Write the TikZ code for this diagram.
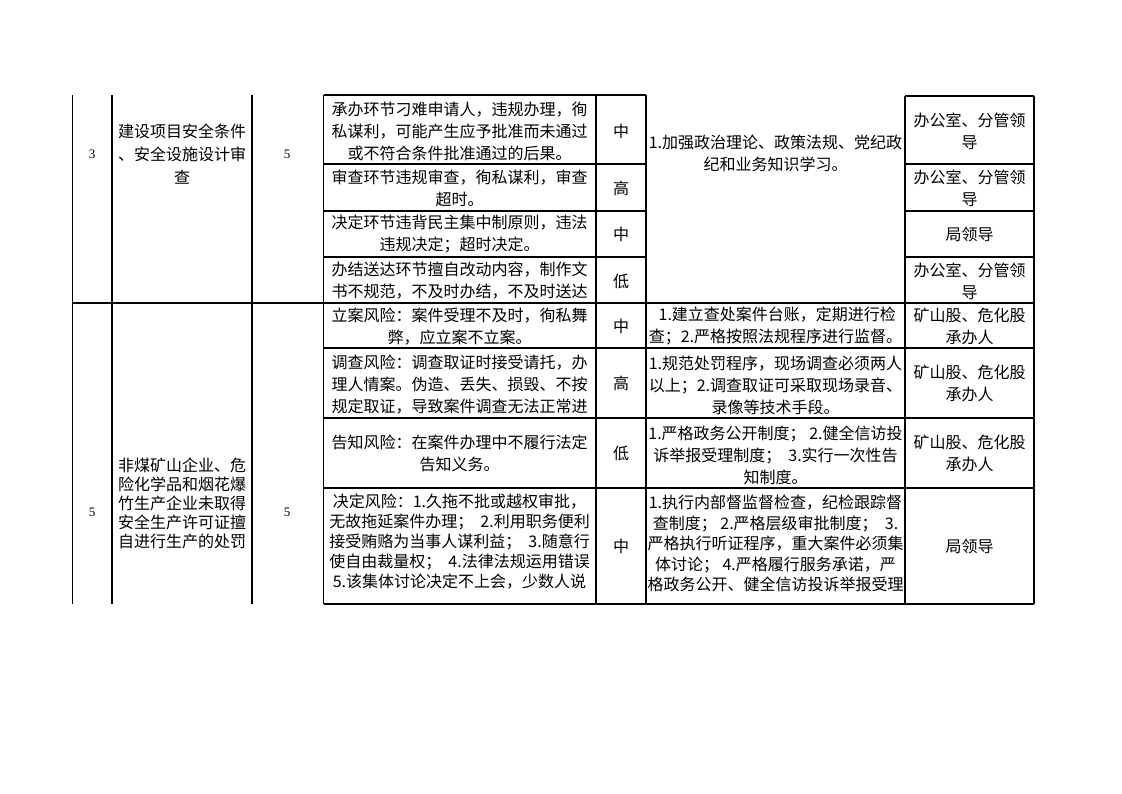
\documentclass[tikz,border=0pt]{standalone}
\usepackage{fontspec}
\setmainfont{Noto Sans CJK SC}
\newfontfamily\numfont{Liberation Serif}
\usepackage{tikz}
\usetikzlibrary{calc}

\begin{document}
\begin{tikzpicture}[x=1pt,y=-1pt,
    rule/.style={line width=1.1pt},
    thick rule/.style={line width=1.6pt},
    cell/.style={align=center,inner sep=0pt,font=\fontsize{16}{22}\selectfont},
    tight cell/.style={cell,font=\fontsize{16}{19}\selectfont},
    grade/.style={inner sep=0pt,font=\fontsize{16}{22}\selectfont},
    num/.style={inner sep=0pt,font=\numfont\fontsize{13}{15}\selectfont}]
    \useasboundingbox (0,0) rectangle (1122,793);
    %Cột trái
    \draw[thick rule] (72.5,95)--(72.5,604);
    \draw[thick rule] (112,95)--(112,604);
    \draw[thick rule] (252,95)--(252,604);
    \draw[thick rule] (72.5,303)--(323.5,303);
    %Khung bảng
    \draw[rule] (323.5,95)--(646,95);
    \draw[rule] (905,96)--(1034,96);
    \draw[rule] (323.5,95)--(323.5,604);
    \draw[rule] (596,95)--(596,604);
    \draw[rule] (646,95)--(646,604);
    \draw[rule] (905,96)--(905,604);
    \draw[rule] (1034,96)--(1034,604);
    \draw[rule] (323.5,303)--(1034,303);
    \draw[rule] (323.5,604)--(1034,604);
    %Hàng khối 1
    \foreach \y in {164,211,257}{
        \draw[rule] (323.5,\y)--(646,\y);
        \draw[rule] (905,\y)--(1034,\y);
    }
    %Hàng khối 2
    \foreach \y in {348,418,488}
        \draw[rule] (323.5,\y)--(1034,\y);
    %Khối 1
    \node[num] (idx1) at (92,154) {3};
    \node[cell,font=\fontsize{16}{23}\selectfont] (item1) at (182,154) {建设项目安全条件\\、安全设施设计审\\查};
    \node[num] (cnt1) at (287,154) {5};
    \node[cell] (risk11) at (459.5,131.5) {承办环节刁难申请人，违规办理，徇\\私谋利，可能产生应予批准而未通过\\或不符合条件批准通过的后果。};
    \node[cell] (risk12) at (459.5,188) {审查环节违规审查，徇私谋利，审查\\超时。};
    \node[cell] (risk13) at (459.5,234) {决定环节违背民主集中制原则，违法\\违规决定；超时决定。};
    \node[cell] (risk14) at (459.5,281) {办结送达环节擅自改动内容，制作文\\书不规范，不及时办结，不及时送达};
    \node[grade] (lvl11) at (621,131.5) {中};
    \node[grade] (lvl12) at (621,188) {高};
    \node[grade] (lvl13) at (621,234) {中};
    \node[grade] (lvl14) at (621,281) {低};
    \node[cell] (meas1) at (775.5,153) {1.加强政治理论、政策法规、党纪政\\纪和业务知识学习。};
    \node[cell] (dept11) at (969.5,131) {办公室、分管领\\导};
    \node[cell] (dept12) at (969.5,188) {办公室、分管领\\导};
    \node[cell] (dept13) at (969.5,234) {局领导};
    \node[cell] (dept14) at (969.5,281.5) {办公室、分管领\\导};
    %Khối 2
    \node[num] (idx2) at (92,512) {5};
    \node[tight cell] (item2) at (182,503) {非煤矿山企业、危\\险化学品和烟花爆\\竹生产企业未取得\\安全生产许可证擅\\自进行生产的处罚};
    \node[num] (cnt2) at (287,512) {5};
    \node[cell] (risk21) at (459.5,326.5) {立案风险：案件受理不及时，徇私舞\\弊，应立案不立案。};
    \node[cell] (risk22) at (459.5,385) {调查风险：调查取证时接受请托，办\\理人情案。伪造、丢失、损毁、不按\\规定取证，导致案件调查无法正常进};
    \node[cell] (risk23) at (459.5,453.5) {告知风险：在案件办理中不履行法定\\告知义务。};
    \node[cell,font=\fontsize{16}{20}\selectfont] (risk24) at (459.5,542) {决定风险：1.久拖不批或越权审批，\\无故拖延案件办理；\ \ 2.利用职务便利\\接受贿赂为当事人谋利益；\ \ 3.随意行\\使自由裁量权；\ \ 4.法律法规运用错误\\5.该集体讨论决定不上会，少数人说};
    \node[grade] (lvl21) at (621,326.5) {中};
    \node[grade] (lvl22) at (621,383) {高};
    \node[grade] (lvl23) at (621,453) {低};
    \node[grade] (lvl24) at (621,546) {中};
    \node[cell] (meas21) at (775.5,326.5) {\ 1.建立查处案件台账，定期进行检\\查；2.严格按照法规程序进行监督。};
    \node[cell] (meas22) at (775.5,385) {1.规范处罚程序，现场调查必须两人\\以上；2.调查取证可采取现场录音、\\录像等技术手段。};
    \node[cell] (meas23) at (775.5,455) {1.严格政务公开制度；\ 2.健全信访投\\诉举报受理制度；\ \ 3.实行一次性告\\知制度。};
    \node[cell,font=\fontsize{16}{20.5}\selectfont] (meas24) at (775.5,543.5) {1.执行内部督监督检查，纪检跟踪督\\查制度；\ 2.严格层级审批制度；\ \ 3.\\严格执行听证程序，重大案件必须集\\体讨论；\ 4.严格履行服务承诺，严\\格政务公开、健全信访投诉举报受理};
    \node[cell] (dept21) at (969.5,326.5) {矿山股、危化股\\承办人};
    \node[cell] (dept22) at (969.5,383) {矿山股、危化股\\承办人};
    \node[cell] (dept23) at (969.5,453) {矿山股、危化股\\承办人};
    \node[cell] (dept24) at (969.5,546) {局领导};
\end{tikzpicture}
\end{document}
